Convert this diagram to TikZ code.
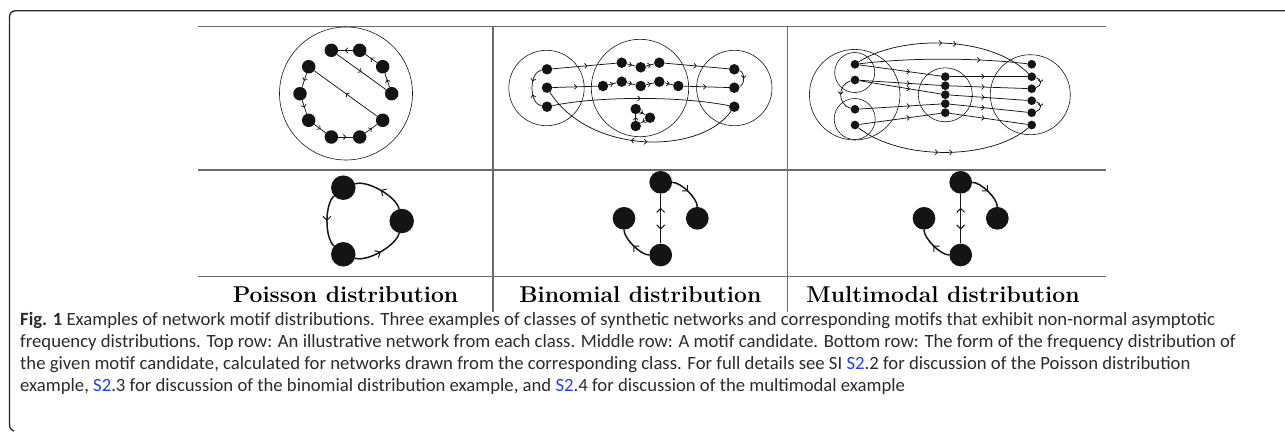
\documentclass[tikz,border=0pt]{standalone}
\usepackage{fontspec}
\newfontfamily\capfont{Carlito}
\usetikzlibrary{decorations.markings,arrows.meta}
\definecolor{ink}{HTML}{141414}
\definecolor{tblgray}{gray}{0.42}
\definecolor{captext}{HTML}{2B2B2B}
\definecolor{linkblue}{HTML}{2040E0}
\tikzset{
  vx/.style={circle, fill=ink, draw=none, inner sep=0pt, minimum size=#1},
  edge/.style={draw=ink, line width=0.75pt},
  medge/.style={draw=ink, line width=1.5pt},
  ring/.style={draw=ink, line width=0.6pt},
  tbl/.style={draw=tblgray, line width=1.1pt},
  frame/.style={draw=black!85, line width=1.3pt},
  mk/.style={postaction={decorate, decoration={markings,
      mark=at position #1 with {\arrow{Straight Barb[length=2.4pt,width=5pt]}}}}},
  mkr/.style={postaction={decorate, decoration={markings,
      mark=at position #1 with {\arrowreversed{Straight Barb[length=2.4pt,width=5pt]}}}}},
  bmk/.style={postaction={decorate, decoration={markings,
      mark=at position #1 with {\arrow{Straight Barb[length=4pt,width=8pt,line width=1pt]}}}}},
  lbl/.style={font=\fontsize{22.9}{27}\selectfont\bfseries, text=black, inner sep=0pt, anchor=base},
  capline/.style={font=\capfont\fontsize{18.7}{22}\selectfont, text=captext, inner sep=0pt, anchor=base west},
}
\begin{document}
\begin{tikzpicture}[x=1pt, y=-1pt]
\useasboundingbox (0,0) rectangle (1285,432);

% open frame round the figure
\draw[frame] (1285,10.7) -- (16,10.7) .. controls (12,10.7) and (9.5,13) .. (9.5,17)
  -- (9.5,424) .. controls (9.5,428) and (11,430.5) .. (14,431.2);

% table rules
\draw[tbl] (198,26.7) -- (1106,26.7);
\draw[tbl] (198,170) -- (1106,170);
\draw[tbl] (198,276.7) -- (1106,276.7);
\draw[tbl] (493,26.7) -- (493,312);
\draw[tbl] (787.7,26.7) -- (787.7,312);

% ---------- Poisson network ----------
\draw[ring] (346,93.5) circle[radius=66.5pt];
\foreach \n/\x/\y in {pa/331.3/50.3, pb/359.7/50.3, pc/382.7/66.7, pd/391.7/93.7, pe/382.7/120.3,
                      pf/359.7/137, pg/331.3/137, ph/308.7/120.3, pi/300/93.7, pj/308.7/66.7}
  \node[vx=13.5pt] (\n) at (\x,\y) {};
\draw[edge, mk=0.55] (pb) -- (pa);
\draw[edge, mk=0.55] (pc) -- (pb);
\draw[edge, mk=0.55] (pd) -- (pc);
\draw[edge, mk=0.5] (pa) -- (pd);
\draw[edge, mk=0.5] (pe) -- (pj);
\draw[edge, mk=0.55] (pj) -- (pi);
\draw[edge, mk=0.55] (pi) -- (ph);
\draw[edge, mk=0.55] (ph) -- (pg);
\draw[edge, mk=0.55] (pg) -- (pf);
\draw[edge, mk=0.55] (pf) -- (pe);

% ---------- Binomial network ----------
\draw[ring] (546.5,88) circle[radius=37.7pt];
\draw[ring] (640,88) circle[radius=48.7pt];
\draw[ring] (734.3,88) circle[radius=37.7pt];
\foreach \n/\x/\y in {bl1/547/69.3, bl2/547/87.7, bl3/547/106.7,
                      br1/734.3/69.3, br2/734.3/87.7, br3/734.3/106.7,
                      bm1/621.7/62.7, bm2/640.7/67.3, bm3/659.3/62.7,
                      bn1/603/86, bn2/621.7/81.7, bn3/640.7/86, bn4/659.3/81.7, bn5/678.3/86,
                      bt1/635.7/109, bt2/650/117.7, bt3/635.7/126}
  \node[vx=10.5pt] (\n) at (\x,\y) {};
\draw[edge, mk=0.55] (bl1) -- (bm1);
\draw[edge, mk=0.6] (bm1) -- (bm2);
\draw[edge, mk=0.6] (bm2) -- (bm3);
\draw[edge, mk=0.5] (bm3) -- (br1);
\draw[edge, mk=0.55] (bl2) -- (bn1);
\draw[edge, mk=0.6] (bn1) -- (bn2);
\draw[edge, mk=0.6] (bn2) -- (bn3);
\draw[edge, mk=0.6] (bn3) -- (bn4);
\draw[edge, mk=0.6] (bn4) -- (bn5);
\draw[edge, mk=0.5] (bn5) -- (br2);
\draw[edge, mk=0.5] (bl3) .. controls (600,96) and (680,96) .. (br3);
\draw[edge, mk=0.5] (br1) .. controls (745,72) and (745,85) .. (br2);
\draw[edge, mk=0.35, mkr=0.65] (bl1) .. controls (528.8,72) and (528.8,104) .. (bl3);
\draw[edge, mkr=0.47, mk=0.55] (bl2) .. controls (590,155) and (700,155) .. (br3);
\draw[edge, mk=0.55] (bt1) -- (bt2);
\draw[edge, mk=0.55] (bt2) -- (bt3);
\draw[edge, mk=0.55] (bt3) -- (bt1);

% ---------- Multimodal network ----------
\draw[ring] (854.7,94.7) circle[radius=45.3pt];
\draw[ring] (854.7,72.5) circle[radius=20pt];
\draw[ring] (854.7,119) circle[radius=20.5pt];
\draw[ring] (945.3,94.8) circle[radius=27pt];
\draw[ring] (1030.3,94.7) circle[radius=40pt];
\foreach \n/\x/\y in {ml1/855/64.3, ml2/855/80, ml3/855/109.3, ml4/855/125,
                      mq1/945.3/76.7, mq2/945.3/85.7, mq3/945.3/94.7, mq4/945.3/103.7, mq5/945.3/112.7,
                      ms1/1031.7/64.3, ms2/1031.7/76.7, ms3/1031.7/88.7, ms4/1031.7/100.7,
                      ms5/1031.7/112.7, ms6/1031.7/125}
  \node[vx=8.7pt] (\n) at (\x,\y) {};
\draw[edge, mk=0.48, mk=0.56] (ml1) .. controls (900,35) and (990,35) .. (ms2);
\draw[edge, mk=0.47, mk=0.55] (ml4) .. controls (900,160.6) and (990,160.6) .. (ms6);
\draw[edge, mk=0.72] (ml1) .. controls (910,57.6) and (975,57.6) .. (ms1);
\draw[edge, mk=0.62] (ml1) -- (mq1);
\draw[edge, mk=0.62] (ml2) -- (mq2);
\draw[edge, mk=0.62] (ml2) -- (mq3);
\draw[edge, mk=0.62] (ml3) -- (mq4);
\draw[edge, mk=0.62] (ml4) -- (mq5);
\draw[edge, mk=0.45] (mq1) -- (ms2);
\draw[edge, mk=0.45] (mq2) -- (ms3);
\draw[edge, mk=0.45] (mq3) -- (ms4);
\draw[edge, mk=0.45] (mq4) -- (ms5);
\draw[edge, mk=0.45] (mq5) -- (ms6);
\draw[edge, mk=0.5] (ml2) .. controls (837.3,84) and (837.3,105) .. (ml3);
\draw[edge, mk=0.5] (ms2) .. controls (1042,79) and (1042,86) .. (ms3);
\draw[edge, mk=0.5] (ms4) .. controls (1042,103) and (1042,110) .. (ms5);

% ---------- motifs ----------
\node[vx=24.5pt] (u1) at (343.3,187.7) {};
\node[vx=24.5pt] (u2) at (401.7,221) {};
\node[vx=24.5pt] (u3) at (343.3,254.3) {};
\draw[medge, bmk=0.5] (u1) .. controls (324.6,204.3) and (324.6,237.7) .. (u3);
\draw[medge, bmk=0.5] (u3) .. controls (367.2,262.2) and (396.4,245.5) .. (u2);
\draw[medge, bmk=0.5] (u2) .. controls (396.4,196.5) and (367.2,179.8) .. (u1);

\foreach \p/\dx in {b/0, m/300} {
  \node[vx=22.7pt] (\p v1) at (660.7+\dx,182.3) {};
  \node[vx=22.7pt] (\p v2) at (624+\dx,218.3) {};
  \node[vx=22.7pt] (\p v3) at (697.3+\dx,218.3) {};
  \node[vx=22.7pt] (\p v4) at (660.7+\dx,255) {};
  \draw[medge, bmk=0.72] (\p v1) -- (\p v4);
  \draw[medge, bmk=0.72] (\p v4) -- (\p v1);
  \draw[medge, bmk=0.5] (\p v1) .. controls (680.9+\dx,182.3) and (697.3+\dx,198.1) .. (\p v3);
  \draw[medge, bmk=0.5] (\p v4) .. controls (640.5+\dx,255) and (624+\dx,238.5) .. (\p v2);
}

% ---------- column labels ----------
\node[lbl] (lp) at (345.5,302) {Poisson distribution};
\node[lbl] (lb) at (640.3,302) {Binomial distribution};
\node[lbl] (lm) at (943,302) {Multimodal distribution};

% ---------- caption ----------
\node[capline] (c1) at (20,325) {{\bfseries Fig. 1} Examples of network motif distributions. Three examples of classes of synthetic networks and corresponding motifs that exhibit non-normal asymptotic};
\node[capline] (c2) at (20,347) {frequency distributions. Top row: An illustrative network from each class. Middle row: A motif candidate. Bottom row: The form of the frequency distribution of};
\node[capline] (c3) at (20,369) {the given motif candidate, calculated for networks drawn from the corresponding class. For full details see SI \textcolor{linkblue}{S2}.2 for discussion of the Poisson distribution};
\node[capline] (c4) at (20,391) {example, \textcolor{linkblue}{S2}.3 for discussion of the binomial distribution example, and \textcolor{linkblue}{S2}.4 for discussion of the multimodal example};
\end{tikzpicture}
\end{document}
